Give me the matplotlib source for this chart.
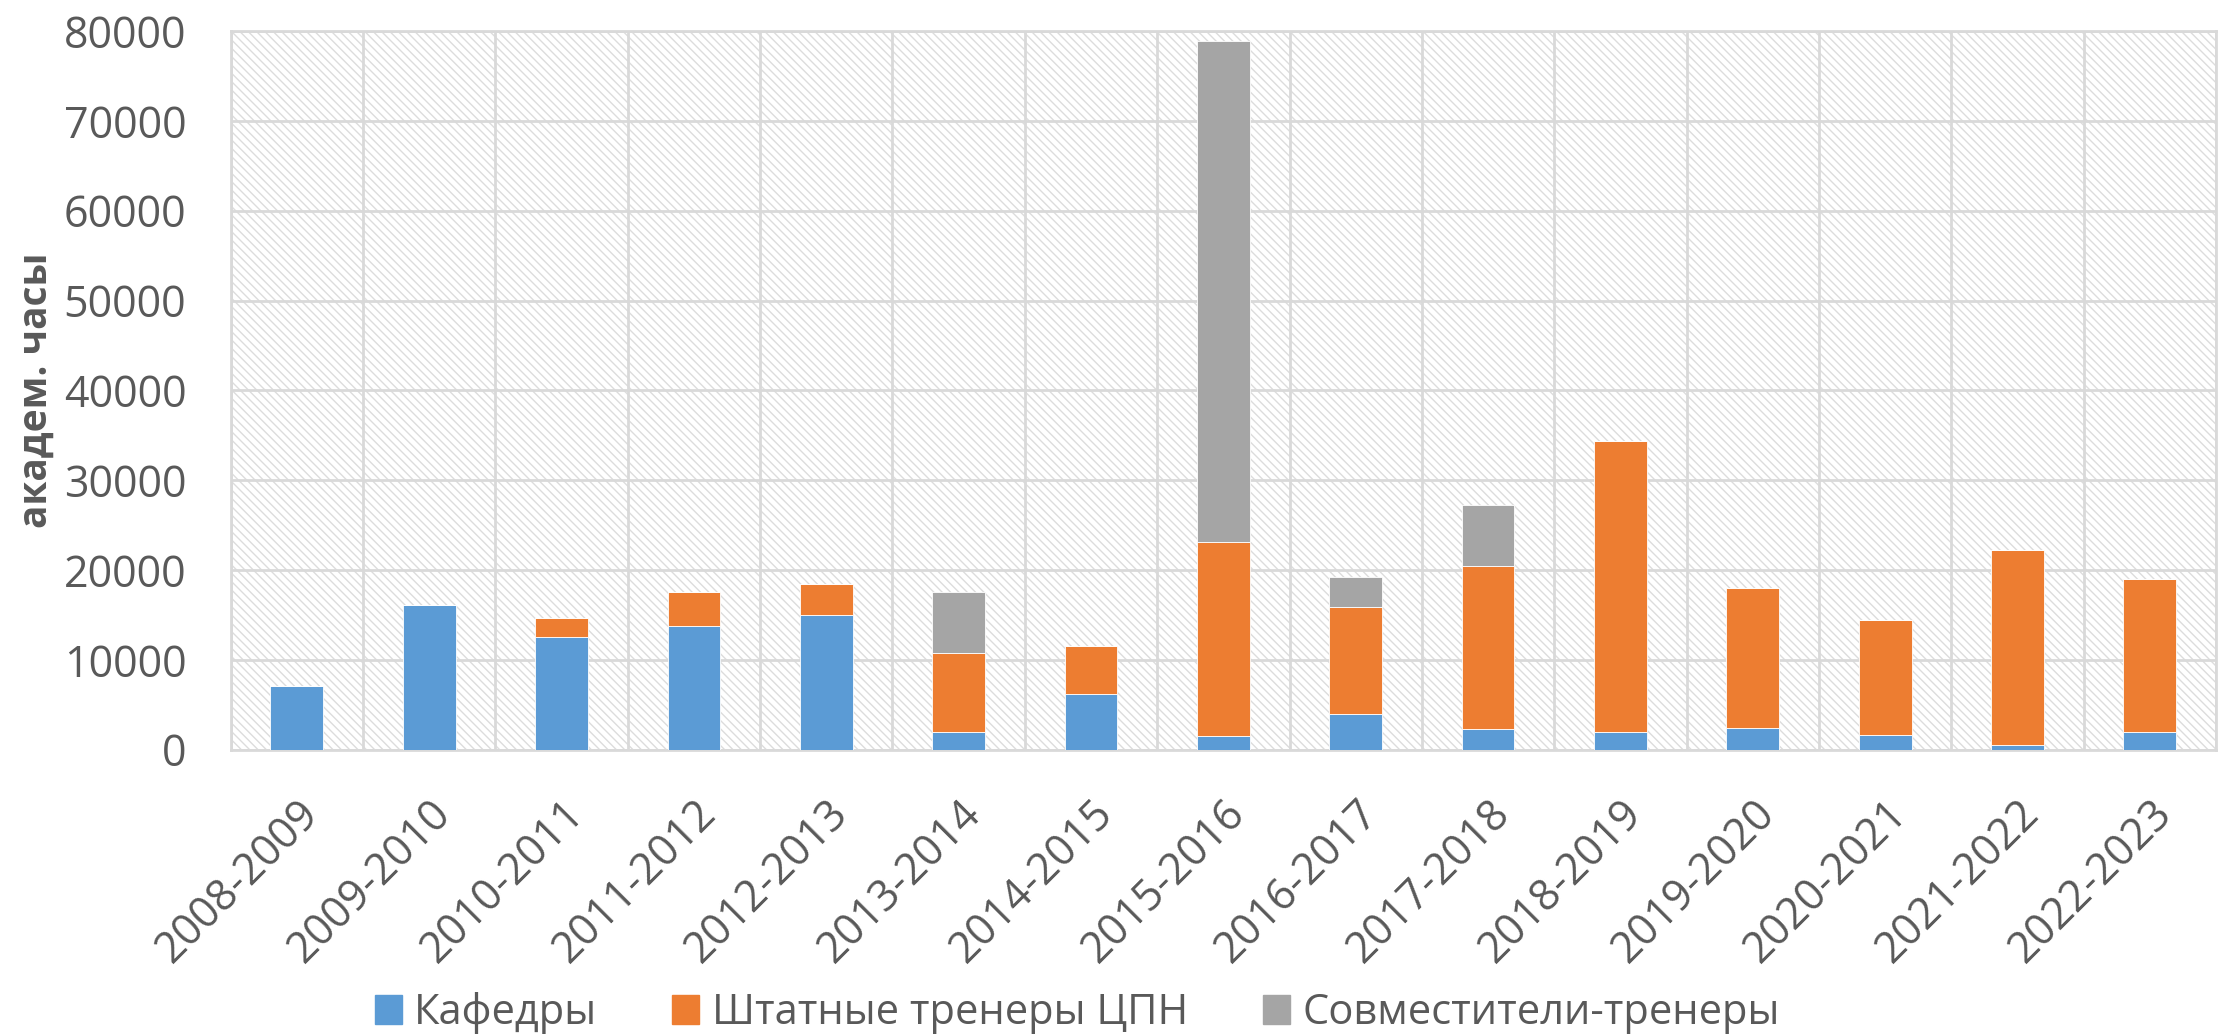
import matplotlib.pyplot as plt
import matplotlib.patches as mpatches
import matplotlib.transforms as mtransforms
import numpy as np

plt.rcParams['font.family'] = ['Open Sans', 'DejaVu Sans']

years = ['2008-2009', '2009-2010', '2010-2011', '2011-2012', '2012-2013',
         '2013-2014', '2014-2015', '2015-2016', '2016-2017', '2017-2018',
         '2018-2019', '2019-2020', '2020-2021', '2021-2022', '2022-2023']
kafedry = [7100, 16100, 12500, 13800, 15000, 2000, 6200, 1500, 4000, 2300,
           2000, 2400, 1650, 570, 2000]
shtatnye = [0, 0, 2200, 3700, 3400, 8800, 5350, 21600, 11900, 18150,
            32400, 15550, 12800, 21600, 17000]
sovmest = [0, 0, 0, 0, 0, 6800, 0, 55750, 3300, 6800,
           0, 0, 0, 0, 0]

labels = ['Кафедры', 'Штатные тренеры ЦПН', 'Совместители-тренеры']
colors = ['#5B9BD5', '#ED7D31', '#A5A5A5']
text_color = '#595959'
grid_color = '#D9D9D9'

fig = plt.figure(figsize=(22.19, 10.34), dpi=100)
ax = fig.add_axes([0.104, 0.275, 0.8946, 0.695])

# hatched background of the plot area
ax.add_patch(mpatches.Rectangle((0, 0), 1, 1, transform=ax.transAxes,
                                facecolor='white', edgecolor='#DCDCDC',
                                linewidth=0, hatch='\\\\\\\\', zorder=0))

x = np.arange(len(years))
k = np.array(kafedry)
s = np.array(shtatnye)
v = np.array(sovmest)
w = 0.40
ax.bar(x, k, w, color=colors[0], label=labels[0], zorder=3,
       edgecolor='white', linewidth=0.6)
ax.bar(x, s, w, bottom=k, color=colors[1], label=labels[1], zorder=3,
       edgecolor='white', linewidth=0.6)
ax.bar(x, v, w, bottom=k + s, color=colors[2], label=labels[2], zorder=3,
       edgecolor='white', linewidth=0.6)

ax.set_xlim(-0.5, len(years) - 0.5)
ax.set_ylim(0, 80000)
ax.set_yticks(np.arange(0, 80001, 10000))
ax.set_xticks(x)
ax.set_xticklabels(years, rotation=45, ha='right', va='top',
                   rotation_mode='anchor')
ax.set_xticks(np.arange(-0.5, len(years), 1), minor=True)

# nudge the rotated labels a little to the left
shift = mtransforms.ScaledTranslation(-0.12, 0, fig.dpi_scale_trans)
for lbl in ax.get_xticklabels():
    lbl.set_transform(lbl.get_transform() + shift)

ax.grid(axis='y', which='major', color=grid_color, linewidth=2, zorder=1)
ax.grid(axis='x', which='minor', color=grid_color, linewidth=2, zorder=1)
ax.grid(axis='x', which='major', visible=False)
ax.set_axisbelow(True)

for sp in ax.spines.values():
    sp.set_color(grid_color)
    sp.set_linewidth(2)

ax.tick_params(axis='both', which='both', length=0, colors=text_color,
               labelsize=31)
ax.tick_params(axis='x', pad=30)
ax.tick_params(axis='y', pad=32)

ax.set_ylabel('академ. часы', fontsize=28, fontweight='bold',
              color=text_color, labelpad=6)

handles = [mpatches.Patch(color=c) for c in colors]
fig.legend(handles, labels, loc='center', bbox_to_anchor=(0.4855, 0.02),
           ncol=3, frameon=False, fontsize=30, labelcolor=text_color,
           handlelength=0.65, handleheight=0.7, handletextpad=0.3,
           columnspacing=1.8)

fig.savefig('out.png', dpi=100)
